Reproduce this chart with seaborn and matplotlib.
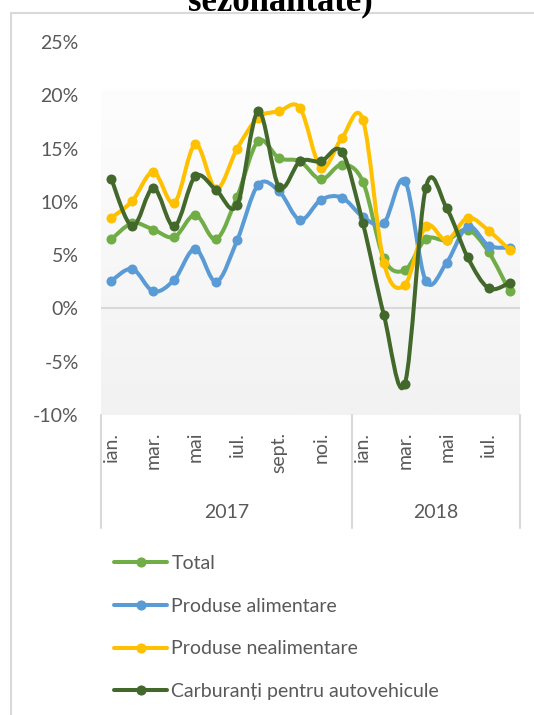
import numpy as np
import pandas as pd
import matplotlib
matplotlib.use("Agg")
import matplotlib.pyplot as plt
from matplotlib.path import Path
from matplotlib.patches import PathPatch, Rectangle
from matplotlib.lines import Line2D
from matplotlib.colors import LinearSegmentedColormap
import matplotlib.transforms as mtransforms
import seaborn as sns

# ---------------- data ----------------
months = ["ian.", "feb.", "mar.", "apr.", "mai", "iun.", "iul.", "aug.",
          "sept.", "oct.", "noi.", "dec.",
          "ian.", "feb.", "mar.", "apr.", "mai", "iun.", "iul.", "aug."]
years = ["2017", "2018"]
year_counts = [12, 8]

total = [6.5, 8.0, 7.4, 6.7, 8.8, 6.5, 10.5, 15.7, 14.1, 13.8, 12.1, 13.5,
         11.9, 4.7, 3.6, 6.5, 6.4, 7.4, 5.3, 1.6]
alimentare = [2.6, 3.7, 1.6, 2.7, 5.6, 2.5, 6.4, 11.6, 11.0, 8.3, 10.2, 10.4,
              8.6, 8.0, 12.0, 2.6, 4.3, 7.7, 5.9, 5.7]
nealimentare = [8.5, 10.1, 12.8, 9.9, 15.4, 11.2, 15.0, 17.9, 18.5, 18.8, 13.2, 16.0,
                17.7, 4.3, 2.2, 7.7, 6.4, 8.5, 7.3, 5.5]
carburanti = [12.1, 7.7, 11.3, 7.7, 12.4, 11.1, 9.7, 18.5, 11.4, 13.8, 13.8, 14.7,
              8.0, -0.6, -7.1, 11.3, 9.4, 4.8, 1.9, 2.4]

series_names = ["Total", "Produse alimentare", "Produse nealimentare",
                "Carburanți pentru autovehicule"]
series_values = [total, alimentare, nealimentare, carburanti]
colors = ["#70AD47", "#5B9BD5", "#FFC000", "#43682B"]
y_ticks = [-10, -5, 0, 5, 10, 15, 20, 25]

# ---------------- style ----------------
sns.set_style("white")
plt.rcParams["font.family"] = ["Lato", "DejaVu Sans"]
TXT = "#595959"
GRID = "#D9D9D9"
FS = 14

W, H, DPI = 534, 715, 100
fig = plt.figure(figsize=(W / DPI, H / DPI), dpi=DPI)
ax_l, ax_r, ax_t, ax_b = 101, 520, 42, 415
ax = fig.add_axes([ax_l / W, 1 - ax_b / H, (ax_r - ax_l) / W, (ax_b - ax_t) / H])
ax.set_facecolor("none")

n = len(months)
x = np.arange(n)

# plot-area gradient fill
grad_top = 20.5
shade = np.linspace(1, 0, 300)
cmap = LinearSegmentedColormap.from_list("g", ["#F2F2F2", "#FDFDFD"])
ax.imshow(shade[:, None], extent=(-0.5, n - 0.5, -10, grad_top), aspect="auto",
          cmap=cmap, vmin=0, vmax=1, zorder=0, interpolation="bilinear")

ax.axhline(0, color=GRID, lw=1.5, zorder=1)


def smooth_path(xs, ys):
    pts = np.column_stack([xs, ys]).astype(float)
    m = len(pts)
    verts = [pts[0]]
    codes = [Path.MOVETO]
    for i in range(m - 1):
        p0 = pts[i - 1] if i > 0 else pts[i]
        p1 = pts[i]
        p2 = pts[i + 1]
        p3 = pts[i + 2] if i + 2 < m else pts[i + 1]
        c1 = p1 + (p2 - p0) / 6.0
        c2 = p2 - (p3 - p1) / 6.0
        verts += [c1, c2, p2]
        codes += [Path.CURVE4] * 3
    return Path(verts, codes)


for k, (name, vals_k, col) in enumerate(zip(series_names, series_values, colors)):
    df = pd.DataFrame({"x": x, "y": vals_k})
    patch = PathPatch(smooth_path(df["x"], df["y"]), facecolor="none",
                      edgecolor=col, lw=2.9, capstyle="round", joinstyle="round",
                      zorder=2 + 2 * k)
    ax.add_patch(patch)
    sns.scatterplot(data=df, x="x", y="y", color=col, s=52, linewidth=0,
                    ax=ax, zorder=3 + 2 * k, legend=False)

ax.set_xlim(-0.5, n - 0.5)
ax.set_ylim(-10, 25)
ax.set_xlabel("")
ax.set_ylabel("")
for s in ax.spines.values():
    s.set_visible(False)

ax.set_yticks(y_ticks)
ax.set_yticklabels([f"{v}%" for v in y_ticks])
ax.tick_params(axis="y", length=0, pad=16, labelsize=FS, labelcolor=TXT)

shown = [i for i in range(n) if i % 2 == 0]
ax.set_xticks(shown)
ax.set_xticklabels([months[i] for i in shown], rotation=90, va="top", ha="center")
ax.tick_params(axis="x", length=0, pad=12, labelsize=FS, labelcolor=TXT)

# category group separators and year labels
trans = mtransforms.blended_transform_factory(ax.transData, ax.transAxes)
axh = ax_b - ax_t
sep_bottom = -(528 - ax_b) / axh
year_y = -(513 - ax_b) / axh
bounds = np.concatenate([[0], np.cumsum(year_counts)]) - 0.5
for b in bounds:
    ax.add_line(Line2D([b, b], [0, sep_bottom], transform=trans, color=GRID,
                       lw=1.5, clip_on=False))
for yr, a, b in zip(years, bounds[:-1], bounds[1:]):
    ax.text((a + b) / 2, year_y, yr, transform=trans, ha="center", va="center",
            fontsize=FS, color=TXT)

# legend
handles = [Line2D([], [], color=c, lw=2.9, marker="o", ms=7.3, mew=0)
           for c in colors]
fig.legend(handles, series_names, loc="upper left",
           bbox_to_anchor=(114 / W, 1 - 555 / H), frameon=False,
           fontsize=FS, labelcolor=TXT, handlelength=2.75, handletextpad=0.2,
           labelspacing=1.32, borderpad=0, borderaxespad=0)

# chart border (partial) and clipped title
fig.add_artist(Rectangle((11 / W, -0.1), 1.2, 1 - 13 / H + 0.1,
                         transform=fig.transFigure, fill=False,
                         edgecolor=GRID, lw=1.5))
fig.text(280 / W, 1 - 10 / H, "sezonalitate)", ha="center", va="baseline",
         fontsize=25, fontweight="bold", family="Liberation Serif", color="black")

fig.savefig("out.png", dpi=DPI)
